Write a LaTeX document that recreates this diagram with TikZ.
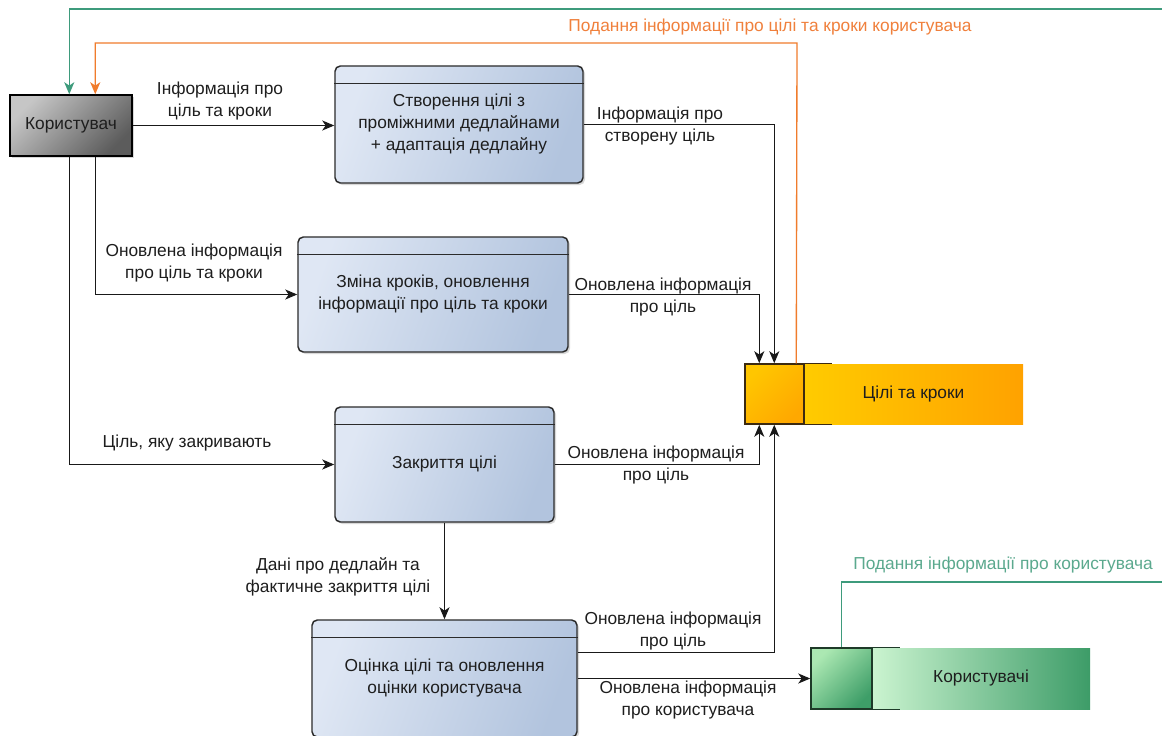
\documentclass[tikz,border=0pt]{standalone}
\usepackage{fontspec}
\setmainfont{Liberation Sans}
\usetikzlibrary{arrows.meta,calc,shadows}
\definecolor{txt}{HTML}{1E1E1E}
\definecolor{tealline}{HTML}{3E9B7C}
\definecolor{tealtext}{HTML}{5BA98E}
\definecolor{orangeline}{HTML}{F07C2C}
\definecolor{orangetext}{HTML}{F0803C}
\definecolor{procL}{HTML}{DFE7F4}
\definecolor{procR}{HTML}{B2C4DE}
\definecolor{edgec}{HTML}{2B2B2B}
\definecolor{userL}{HTML}{C6C6C6}
\definecolor{userR}{HTML}{5C5C5C}
\definecolor{orA}{HTML}{FFC600}
\definecolor{orB}{HTML}{FFA800}
\definecolor{orC}{HTML}{FFCB00}
\definecolor{orD}{HTML}{FFA200}
\definecolor{orEdge}{HTML}{3C2A10}
\definecolor{grA}{HTML}{ABE8B2}
\definecolor{grB}{HTML}{3E9E68}
\definecolor{grC}{HTML}{CBF4D0}
\definecolor{grD}{HTML}{3D9C68}
\definecolor{grEdge}{HTML}{1E3A28}
\tikzset{
  every node/.style={font=\fontsize{13}{16.5}\selectfont, text=txt},
  procbox/.style={draw=edgec, line width=1.1pt, rounded corners=4pt,
    left color=procL, right color=procR, shading angle=70,
    drop shadow={shadow xshift=1.5pt, shadow yshift=-1.5pt, opacity=0.3},
    align=center, inner sep=0pt},
  userbox/.style={draw=black, line width=1.1pt, left color=userL, right color=userR,
    shading angle=45,
    drop shadow={shadow xshift=1.5pt, shadow yshift=-1.5pt, opacity=0.3},
    inner sep=0pt, minimum width=91.5pt, minimum height=45.75pt},
  hdr/.style={draw=edgec, line width=1.1pt},
  flow/.style={draw=black!90, line width=1pt, -{Stealth[length=9pt,width=7.5pt,inset=2.5pt]}},
  tealflow/.style={draw=tealline, line width=1pt, -{Stealth[length=9pt,width=7.5pt,inset=2.5pt]}},
  orangeflow/.style={draw=orangeline, line width=1pt, -{Stealth[length=9pt,width=7.5pt,inset=2.5pt]}},
  lbl/.style={align=center, inner sep=0pt},
  storeid/.style={line width=1.1pt, inner sep=0pt},
  storelbl/.style={inner sep=0pt}
}
\begin{document}
\begin{tikzpicture}[x=0.75pt,y=-0.75pt]
\fill[white] (0,0) rectangle (1162,735);
\path[use as bounding box] (0,0) rectangle (1162,735);

% stores
\node[storelbl, left color=orC, right color=orD, minimum width=164.25pt, minimum height=45pt] (s1) at (913.5,394) {Цілі та кроки};
\node[storeid, draw=orEdge, left color=orA, right color=orB, shading angle=45, minimum width=44.25pt, minimum height=45pt] (s1id) at (774.5,394) {};
\draw[orEdge, line width=1.1pt] (s1id.north west) -- ($(s1id.north east)+(27,0)$);
\draw[orEdge, line width=1.1pt] (s1id.south west) -- ($(s1id.south east)+(27,0)$);

\node[storelbl, left color=grC, right color=grD, minimum width=163.5pt, minimum height=45.75pt] (s2) at (981,678.5) {Користувачі};
\node[storeid, draw=grEdge, left color=grA, right color=grB, shading angle=45, minimum width=45.75pt, minimum height=45.75pt] (s2id) at (841.5,678.5) {};
\draw[grEdge, line width=1.1pt] (s2id.north west) -- ($(s2id.north east)+(27,0)$);
\draw[grEdge, line width=1.1pt] (s2id.south west) -- ($(s2id.south east)+(27,0)$);

% user
\node[userbox] (user) at (71,125.5) {Користувач};

% processes
\node[procbox, minimum width=186pt, minimum height=87.75pt] (p1) at (459,124.5) {Створення цілі з\\проміжними дедлайнами\\+ адаптація дедлайну};
\draw[hdr] ($(p1.north west)+(0,18)$) -- ($(p1.north east)+(0,18)$);

\node[procbox, minimum width=202.5pt, minimum height=86.25pt] (p2) at (433,294.5) {Зміна кроків, оновлення\\інформації про ціль та кроки};
\draw[hdr] ($(p2.north west)+(0,18)$) -- ($(p2.north east)+(0,18)$);

\node[procbox, minimum width=164.25pt, minimum height=86.25pt] (p3) at (444.5,464.5) {Закриття цілі};
\draw[hdr] ($(p3.north west)+(0,18)$) -- ($(p3.north east)+(0,18)$);

\node[procbox, minimum width=198.75pt, minimum height=87.75pt] (p4) at (444.5,678.5) {Оцінка цілі та оновлення\\оцінки користувача};
\draw[hdr] ($(p4.north west)+(0,18)$) -- ($(p4.north east)+(0,18)$);

% connectors
\draw[flow] (user.east) -- (user.east -| p1.west);
\draw[flow] (p1.east) -| ($(s1id.north west)+(30,0)$);
\draw[flow] ($(user.south west)+(86,0)$) |- (p2.west);
\draw[flow] (p2.east) -| ($(s1id.north west)+(15,0)$);
\draw[flow] ($(user.south west)+(60,0)$) |- (p3.west);
\draw[flow] (p3.east) -| ($(s1id.south west)+(15,0)$);
\draw[flow] (p3.south) -- (p4.north);
\draw[flow] ($(p4.north east)+(0,33)$) -| ($(s1id.south west)+(30,0)$);
\draw[flow] (p4.east) -- (s2id.west);

\coordinate (tr1) at (1175,582);
\coordinate (tr2) at (1175,9);
\draw[tealflow] ($(s2id.north west)+(31,0)$) |- (tr1) -- (tr2) -| ($(user.north west)+(60,0)$);
\coordinate (otop) at (797,43);
\draw[orangeflow] ($(s1id.north west)+(52,0)$) -- (otop) -| ($(user.north west)+(86,0)$);

% labels
\node[lbl] (l1) at (220,101) {Інформація про\\ціль та кроки};
\node[lbl] (l2) at (660,126.5) {Інформація про\\створену ціль};
\node[lbl] (l3) at (194,263.5) {Оновлена інформація\\про ціль та кроки};
\node[lbl] (l4) at (663,297) {Оновлена інформація\\про ціль};
\node[lbl] (l5) at (187,443) {Ціль, яку закривають};
\node[lbl] (l6) at (656,465.5) {Оновлена інформація\\про ціль};
\node[lbl] (l7) at (338,576.5) {Дані про дедлайн та\\фактичне закриття цілі};
\node[lbl] (l8) at (673,631.5) {Оновлена інформація\\про ціль};
\node[lbl] (l9) at (688,700) {Оновлена інформація\\про користувача};
\node[lbl, text=orangetext] (l10) at (770,27) {Подання інформації про цілі та кроки користувача};
\node[lbl, text=tealtext] (l11) at (1003,565) {Подання інформації про користувача};
\end{tikzpicture}
\end{document}
